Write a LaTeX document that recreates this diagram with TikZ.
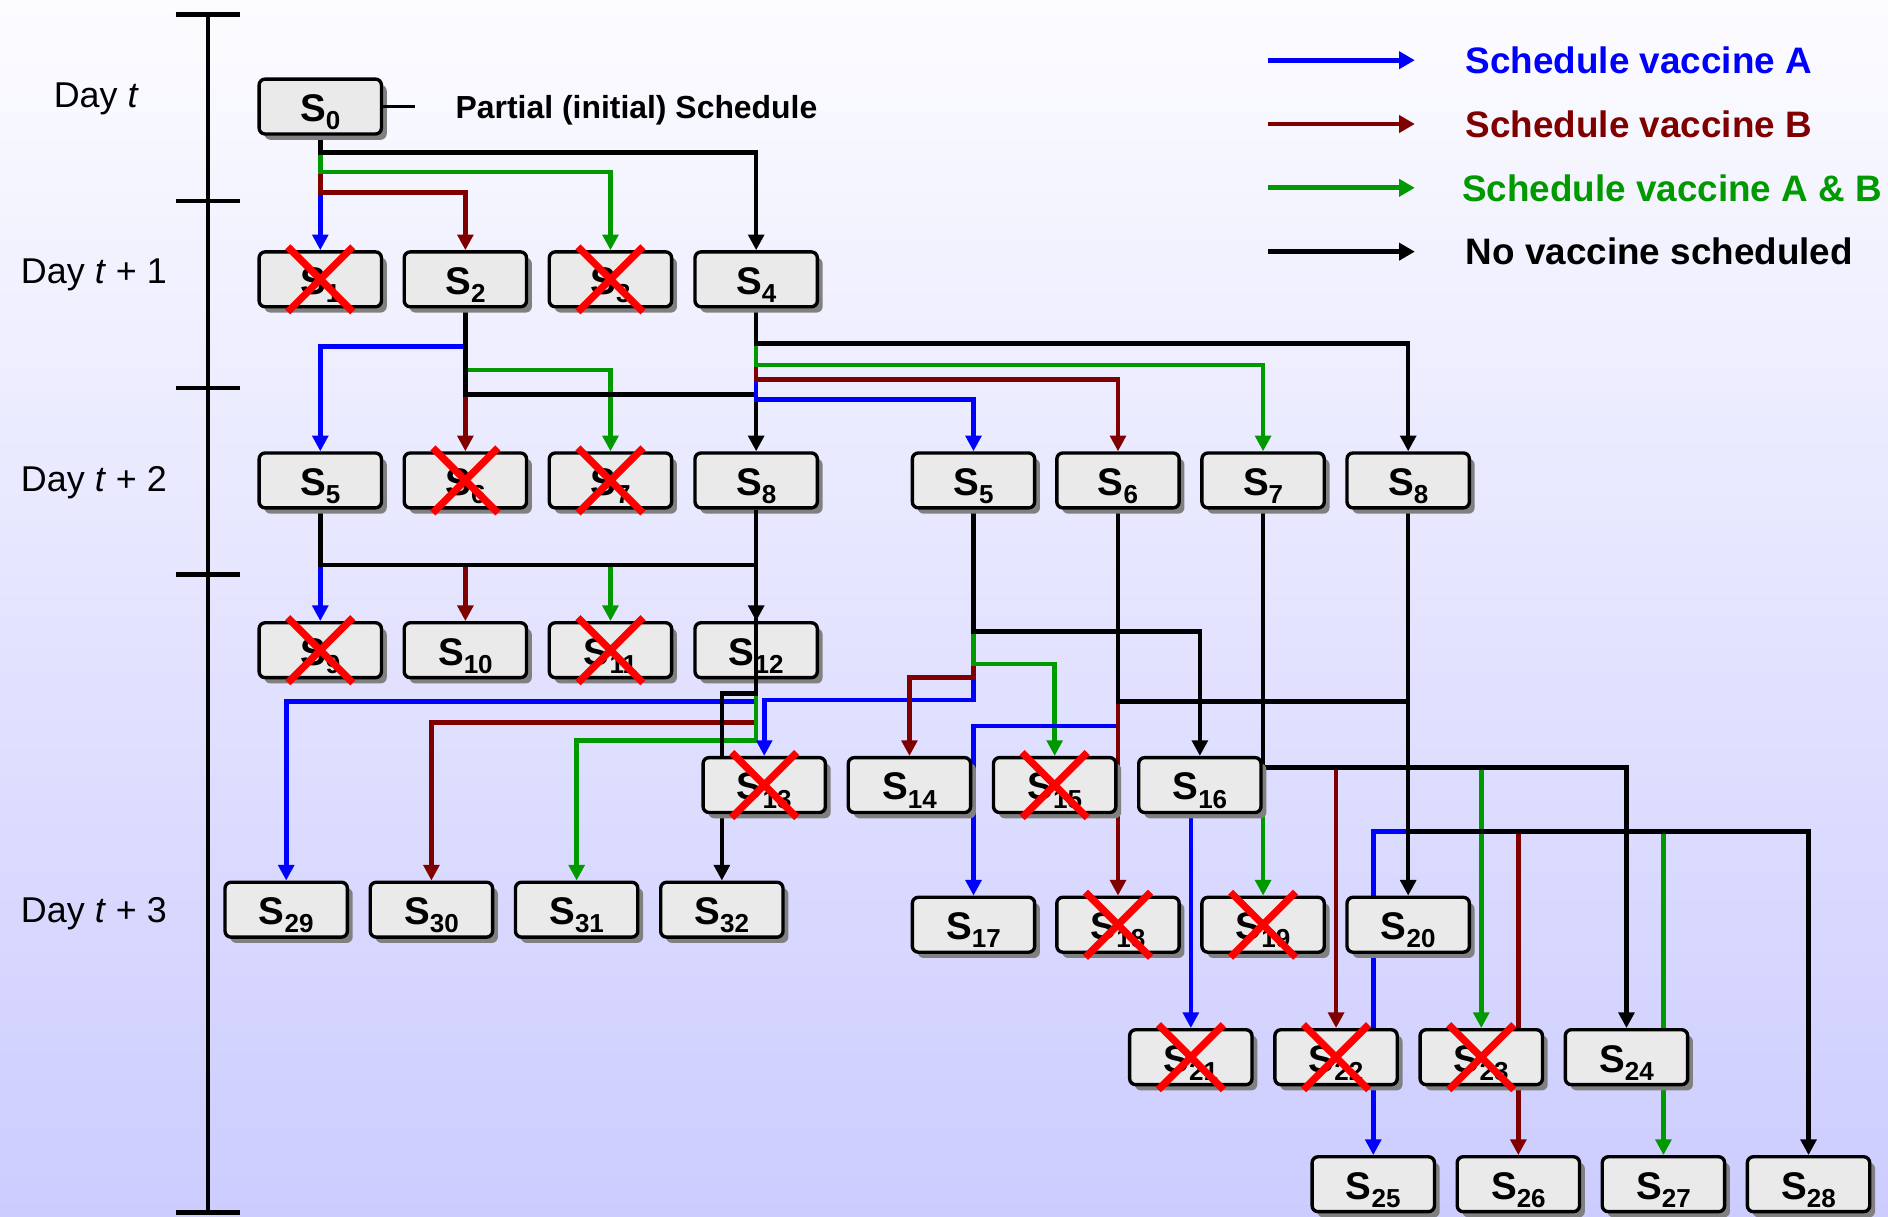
\documentclass[tikz,border=0pt]{standalone}
\usepackage{fontspec}
\setmainfont{Liberation Sans}
\usetikzlibrary{arrows.meta}
\usetikzlibrary{shadows}

\definecolor{colA}{RGB}{0,0,255}
\definecolor{colB}{RGB}{128,0,0}
\definecolor{colAB}{RGB}{0,153,0}
\definecolor{bgtop}{RGB}{252,252,255}
\definecolor{bgbot}{RGB}{204,204,255}
\definecolor{boxfill}{RGB}{234,234,234}

\pgfdeclarelayer{bg}
\pgfdeclarelayer{edges}
\pgfsetlayers{bg,edges,main}

\newcommand{\sname}[1]{S\raisebox{-3.5pt}{\fontsize{10.8pt}{10.8pt}\selectfont #1}}

\begin{document}
\begin{tikzpicture}[x=0.5pt, y=-0.5pt,
      box/.style={draw, line width=1.4pt, rounded corners=2.5pt, fill=boxfill,
        minimum width=50.8pt, minimum height=22.8pt, inner sep=0pt,
        text height=12.3pt, text depth=0pt,
        font=\fontsize{16pt}{16pt}\selectfont\bfseries,
        drop shadow={shadow xshift=2.2pt, shadow yshift=-2.4pt, fill=black!50, opacity=1}},
      link/.style={line width=1.9pt, -{Triangle[length=6.5pt,width=6.5pt]}},
      cut/.style={draw=red, line width=3pt},
      key/.style={line width=2pt, -{Triangle[length=6.5pt,width=7pt]}},
      keytext/.style={anchor=west, inner sep=0pt, font=\fontsize{15.3pt}{15.3pt}\selectfont\bfseries},
      day/.style={anchor=base, inner sep=0pt, font=\fontsize{14.9pt}{14.9pt}\selectfont}]
  \useasboundingbox (0,0) rectangle (1568,1010);
  \begin{pgfonlayer}{bg}
    \shade[top color=bgtop, bottom color=bgbot] (0,0) rectangle (1568,1010);
  \end{pgfonlayer}

  \draw[line width=1.8pt] (172.5,12) -- (172.5,1007);
  \foreach \y in {12,167,322,477,1007}
    \draw[line width=1.8pt] (146,\y) -- (199,\y);

  \node[day] (dayt)  at (80,89.2)  {Day \textit{t}};
  \node[day] (dayt1) at (78,235.3) {Day \textit{t} + 1};
  \node[day] (dayt2) at (78,408.5) {Day \textit{t} + 2};
  \node[day] (dayt3) at (78,766.5) {Day \textit{t} + 3};

  \node[box] (s0) at (266,88.5) {\sname{0}};
  \node[anchor=base west, inner sep=0pt, font=\fontsize{13.25pt}{13.25pt}\selectfont\bfseries]
    (partial) at (378,98.3) {Partial (initial) Schedule};
  \coordinate (pend) at (345,88.5);
  \draw[line width=1.4pt] (s0.east) -- (pend);

  \foreach \n/\x in {1/266,2/386.5,3/507,4/628}
    \node[box] (s\n) at (\x,232) {\sname{\n}};
  \foreach \n/\x in {5/266,6/386.5,7/507,8/628}
    \node[box] (s\n) at (\x,399) {\sname{\n}};
  \foreach \n/\x in {5/808.5,6/928.5,7/1049,8/1169.5}
    \node[box] (r\n) at (\x,399) {\sname{\n}};
  \foreach \n/\x in {9/266,10/386.5,11/507,12/628}
    \node[box] (s\n) at (\x,540) {\sname{\n}};
  \foreach \n/\x in {29/237.7,30/358.3,31/478.9,32/599.5}
    \node[box] (s\n) at (\x,755.5) {\sname{\n}};
  \draw[link] (s8.south) |- (s32.north |- 0,576) -- (s32.north);
  \foreach \n/\x in {13/634.7,14/755.3,15/875.9,16/996.5}
    \node[box] (s\n) at (\x,652) {\sname{\n}};
  \foreach \n/\x in {17/808.5,18/928.5,19/1049,20/1169.5}
    \node[box] (s\n) at (\x,768) {\sname{\n}};
  \foreach \n/\x in {21/989,22/1109.6,23/1230.2,24/1350.8}
    \node[box] (s\n) at (\x,878) {\sname{\n}};
  \foreach \n/\x in {25/1140.5,26/1261,27/1381.5,28/1502}
    \node[box] (s\n) at (\x,983.5) {\sname{\n}};

  \begin{pgfonlayer}{edges}
    \foreach \src/\lvl/\dst/\col in {
        s0/160/s1/colA, s0/160/s2/colB, s0/143/s3/colAB, s0/126.5/s4/black,
        s2/288/s5/colA, s2/350/s6/colB, s2/307.4/s7/colAB, s2/327.6/s8/black,
        s4/331.6/r5/colA, s4/315.1/r6/colB, s4/303.2/r7/colAB, s4/285.2/r8/black,
        s5/469.3/s9/colA, s5/469.3/s10/colB, s5/469.3/s11/colAB, s5/469.3/s12/black,
        s8/582.5/s29/colA, s8/600/s30/colB, s8/615/s31/colAB,
        r5/581.4/s13/colA, r5/562.8/s14/colB, r5/551.5/s15/colAB, r5/524.6/s16/black,
        r6/603/s17/colA, r6/700/s18/colB, r6/582.8/s20/black,
        r7/650/s21/colA, r7/637.6/s22/colB, r7/637.6/s23/colAB, r7/700/s19/colAB, r7/637.6/s24/black,
        r8/690.7/s25/colA, r8/690.7/s26/colB, r8/690.7/s27/colAB, r8/690.7/s28/black}
      \draw[link, color=\col] (\src.south) |- (\dst.north |- 0,\lvl) -- (\dst.north);
  \end{pgfonlayer}

  \foreach \n in {s1,s3,s6,s7,s9,s11,s13,s15,s18,s19,s21,s22,s23}
    \draw[cut] (\n.center) +(-27,-27) -- +(27,27) (\n.center) +(27,-27) -- +(-27,27);

  \foreach \i/\y/\tx/\c/\t in {1/50/1217/colA/Schedule vaccine A,
      2/103/1217/colB/Schedule vaccine B,
      3/156/1214/colAB/Schedule vaccine A \& B,
      4/209/1217/black/No vaccine scheduled} {
    \coordinate (key\i) at (1053,\y);
    \node[keytext, text=\c] (keylbl\i) at (\tx,\y) {\t};
    \draw[key, color=\c] (key\i) -- ++(122,0);
  }
\end{tikzpicture}
\end{document}
